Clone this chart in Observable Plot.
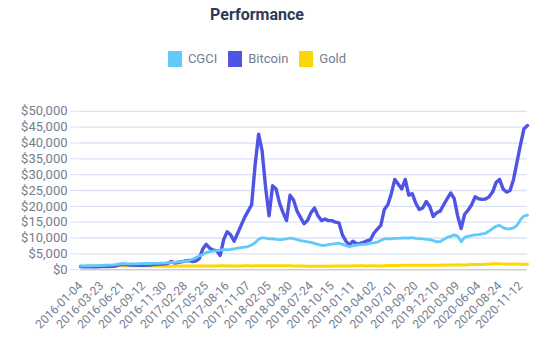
<!DOCTYPE html>
<html><head><meta charset="utf-8">
<script src="https://cdn.jsdelivr.net/npm/d3@7"></script>
<script src="https://cdn.jsdelivr.net/npm/@observablehq/plot@0.6"></script>
<style>
body{margin:0;background:#fff;font-family:Roboto,sans-serif;}
#header{width:514px;height:95px;position:relative}
#title{position:absolute;top:5px;left:0;width:514px;text-align:center;font-weight:700;font-size:16px;color:#2f3a55}
#legend{position:absolute;top:51px;left:0;width:514px;display:flex;justify-content:center;gap:11px;font-size:13px;color:#747d92;line-height:16px}
.item{display:flex;align-items:center}
.sw{width:14px;height:16px;margin-right:6px}
</style></head>
<body>
<div id="header"><div id="title">Performance</div><div id="legend"></div></div>
<div id="chart"></div>
<script>
const tickLabels = ["2016-01-04","2016-03-23","2016-06-21","2016-09-12","2016-11-30","2017-02-28","2017-05-25","2017-08-16","2017-11-07","2018-02-05","2018-04-30","2018-07-24","2018-10-15","2019-01-11","2019-04-02","2019-07-01","2019-09-20","2019-12-10","2020-03-09","2020-06-04","2020-08-24","2020-11-12"];
const pointsPerLabel = 6;
const seriesNames = ["CGCI","Bitcoin","Gold"];
const seriesColors = ["#62c9fb","#5054e4","#f7d70a"];
const yTicks = [0,5000,10000,15000,20000,25000,30000,35000,40000,45000,50000];

const cgci = [1200,1200,1250,1250,1300,1300,1350,1400,1450,1500,1600,1800,1900,1850,1850,1900,1850,1900,1900,1950,1950,2000,2000,2050,2100,2200,2300,2350,2450,2550,2700,2900,3300,3800,4300,4800,5400,5700,5850,6000,6200,6300,6300,6400,6600,6800,7000,7100,7300,7800,8500,9600,10100,10000,9700,9800,9600,9500,9600,9700,10000,9800,9500,9200,9000,8800,8600,8300,8000,7700,7700,7900,8100,8200,8400,8000,7600,7300,7500,7800,7900,8000,8100,8300,8500,8700,9200,9700,9800,9700,9900,9900,10000,10050,10000,10100,9900,9800,9700,9600,9500,9200,8800,8900,9500,10200,10500,11000,10600,8800,10200,10500,10800,11000,11100,11300,11500,12200,13000,13700,14000,13300,12900,12900,13200,14000,15800,17000,17200];

const bitcoin = [1000,950,900,950,900,950,1000,1050,1000,1100,1150,1500,1700,1600,1500,1450,1400,1450,1400,1450,1500,1600,1700,1750,1800,2000,2600,2100,2300,2500,2800,2900,2600,2700,3500,6500,8000,6800,6200,6000,4500,9500,12000,11000,9000,11500,14000,16500,18500,20500,33000,42800,37500,26000,17000,26500,25500,21000,18000,15500,23500,22000,18500,16500,14500,15500,18000,19500,17000,15500,16000,15500,15500,15000,14800,11000,9000,7800,9000,8200,8300,8600,9100,9400,11500,12800,14000,19000,20500,24000,28500,27000,25500,28500,23500,24000,21000,19000,19500,21500,20000,16800,18000,18500,20500,22400,24200,22500,17000,13000,17500,18800,20500,23000,22400,22200,22300,23000,24500,27500,28500,25500,24500,25000,28500,34000,39500,44500,45500];

const gold = [1000,1020,1050,1100,1150,1130,1150,1150,1180,1200,1220,1250,1260,1270,1250,1240,1230,1210,1230,1200,1180,1140,1100,1080,1080,1100,1120,1150,1160,1170,1160,1180,1190,1200,1190,1170,1170,1180,1160,1190,1210,1230,1200,1210,1190,1180,1200,1210,1210,1200,1220,1250,1240,1230,1220,1230,1230,1240,1220,1210,1210,1200,1170,1160,1140,1120,1120,1110,1100,1100,1110,1120,1130,1130,1140,1150,1160,1190,1210,1220,1230,1220,1200,1210,1210,1200,1200,1250,1320,1310,1320,1330,1390,1400,1390,1380,1400,1390,1370,1400,1380,1400,1380,1410,1450,1470,1460,1500,1560,1480,1500,1560,1610,1630,1640,1670,1700,1750,1850,1900,1840,1820,1800,1750,1760,1780,1750,1720,1720];

const seriesValues = [cgci, bitcoin, gold];
const rows = [];
seriesNames.forEach((name, s) => seriesValues[s].forEach((v, i) => rows.push({series: name, i, v})));

// legend
const legend = document.getElementById("legend");
seriesNames.forEach((name, s) => {
  const it = document.createElement("div"); it.className = "item";
  const sw = document.createElement("div"); sw.className = "sw"; sw.style.background = seriesColors[s];
  const tx = document.createElement("span"); tx.textContent = name;
  it.appendChild(sw); it.appendChild(tx); legend.appendChild(it);
});

const n = cgci.length;
const tickIdx = tickLabels.map((_, k) => k * pointsPerLabel);
const fmt = d3.format(",");

const chart = Plot.plot({
  width: 556, height: 256,
  marginLeft: 80, marginRight: 29, marginTop: 15.8, marginBottom: 81.8,
  x: {domain: [0, n - 1]},
  y: {domain: [0, 50000]},
  color: {domain: seriesNames, range: seriesColors},
  style: {fontFamily: "Roboto, sans-serif", fontSize: "12px", background: "#fff", overflow: "visible"},
  marks: [
    Plot.gridY(yTicks.slice(1), {stroke: "#dae2f6", strokeOpacity: 1, strokeWidth: 1.3}),
    Plot.axisY(yTicks, {tickSize: 10, tickPadding: 3, stroke: "#dae2f6", strokeOpacity: 1, fill: "#737c91", fontSize: 13, tickFormat: d => "$" + fmt(d), label: null}),
    Plot.ruleY([0], {stroke: "#cfcfcf", strokeWidth: 1.6}),
    Plot.axisX(tickIdx, {tickSize: 0, tickPadding: 14, tickRotate: -45, fill: "#737c91", fontSize: 12, tickFormat: i => tickLabels[i / pointsPerLabel], label: null}),
    Plot.line(rows.filter(d => d.series === "Gold"), {x: "i", y: "v", stroke: "series", strokeWidth: 3, strokeLinejoin: "round"}),
    Plot.line(rows.filter(d => d.series === "Bitcoin"), {x: "i", y: "v", stroke: "series", strokeWidth: 3.4, strokeLinejoin: "round"}),
    Plot.line(rows.filter(d => d.series === "CGCI"), {x: "i", y: "v", stroke: "series", strokeWidth: 2.8, strokeLinejoin: "round"})
  ]
});
document.getElementById("chart").appendChild(chart);
</script>
</body></html>
